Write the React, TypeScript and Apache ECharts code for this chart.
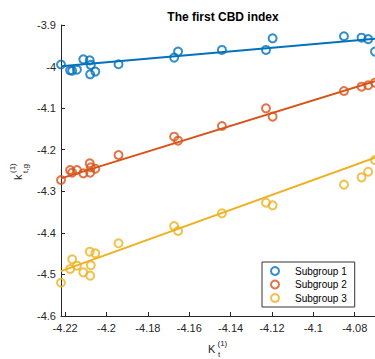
import React, { useEffect, useRef } from "react";
import * as echarts from "echarts";

const kt = [
  -4.222, -4.2176, -4.2166, -4.2143, -4.2112, -4.2081, -4.2079, -4.2076, -4.2054,
  -4.1942, -4.1673, -4.1654, -4.1442, -4.1229, -4.1197, -4.0852, -4.0767, -4.0735, -4.0702,
];
const sub1 = [
  -3.995, -4.009, -4.01, -4.0075, -3.9825, -3.985, -4.0186, -3.996, -4.012,
  -3.9945, -3.9786, -3.964, -3.96, -3.96, -3.932, -3.927, -3.9305, -3.934, -3.964,
];
const sub2 = [
  -4.2729, -4.2488, -4.2553, -4.2488, -4.2568, -4.2327, -4.2553, -4.2423, -4.2457,
  -4.2127, -4.1687, -4.1783, -4.143, -4.1004, -4.1205, -4.0588, -4.0484, -4.045, -4.0388,
];
const sub3 = [
  -4.52, -4.487, -4.4636, -4.479, -4.495, -4.4453, -4.503, -4.478, -4.4492,
  -4.4251, -4.3835, -4.3955, -4.353, -4.3275, -4.3337, -4.2841, -4.2665, -4.2529, -4.2248,
];
const fitX = [-4.222, -4.0702];
const fit1 = [-3.999, -3.933];
const fit2 = [-4.269, -4.035];
const fit3 = [-4.492, -4.219];
const seriesNames = ["Subgroup 1", "Subgroup 2", "Subgroup 3"];
const xTicks = [-4.22, -4.2, -4.18, -4.16, -4.14, -4.12, -4.1, -4.08];

const COLORS = ["#0072BD", "#D95319", "#EDB120"];
const FONT = "'Liberation Sans', Arial, Helvetica, sans-serif";
const AX = "#262626";

export default function App() {
  const ref = useRef<HTMLDivElement>(null);
  useEffect(() => {
    if (!ref.current) return;
    const chart = echarts.init(ref.current, null, { renderer: "svg" });
    const groups = [sub1, sub2, sub3];
    const fits = [fit1, fit2, fit3];
    const scatter = groups.map((g, i) => ({
      type: "scatter",
      name: seriesNames[i],
      data: kt.map((x, j) => [x, g[j]]),
      symbol: "circle",
      symbolSize: 8,
      itemStyle: { color: "transparent", borderColor: COLORS[i], borderWidth: 2 },
      z: 3,
    }));
    const lines = fits.map((f, i) => ({
      type: "line",
      name: "fit" + (i + 1),
      data: fitX.map((x, j) => [x, f[j]]),
      showSymbol: false,
      symbol: "none",
      lineStyle: { color: COLORS[i], width: 2 },
      z: 2,
    }));
    const fmt = (v: number) => String(Math.round(v * 100) / 100);
    chart.setOption({
      animation: false,
      backgroundColor: "#fff",
      textStyle: { fontFamily: FONT },
      title: {
        text: "The first CBD index",
        left: 218,
        top: 6,
        textAlign: "center",
        textStyle: { fontFamily: FONT, fontSize: 12, fontWeight: "bold", color: "#000" },
      },
      grid: { left: 61, right: 0, top: 25, bottom: 43, containLabel: false },
      xAxis: {
        type: "value",
        min: -4.222,
        max: -4.0702,
        axisLine: { show: true, onZero: false, lineStyle: { color: AX, width: 1 } },
        axisTick: { show: true, inside: true, length: 4, customValues: xTicks, lineStyle: { color: AX } },
        axisLabel: { customValues: xTicks, formatter: fmt, color: AX, fontSize: 11, fontFamily: FONT, margin: 6 },
        splitLine: { show: false },
      },
      yAxis: {
        type: "value",
        min: -4.6,
        max: -3.9,
        interval: 0.1,
        axisLine: { show: true, onZero: false, lineStyle: { color: AX, width: 1 } },
        axisTick: { show: true, inside: true, length: 4, lineStyle: { color: AX } },
        axisLabel: { formatter: fmt, color: AX, fontSize: 11, fontFamily: FONT, margin: 5 },
        splitLine: { show: false },
      },
      legend: {
        orient: "vertical",
        left: 262,
        top: 262,
        padding: [3, 8, 3, 8],
        itemWidth: 30,
        itemHeight: 8,
        itemGap: 1.5,
        backgroundColor: "#fff",
        borderColor: "#333",
        borderWidth: 1,
        borderRadius: 0,
        textStyle: { fontFamily: FONT, fontSize: 10, color: "#000", lineHeight: 12 },
        data: seriesNames.map((n, i) => ({
          name: n,
          icon: "circle",
          itemStyle: { color: "transparent", borderColor: COLORS[i], borderWidth: 2 },
        })),
      },
      graphic: [
        {
          type: "group",
          x: 18,
          y: 171,
          rotation: Math.PI / 2,
          children: [
            { type: "text", x: -9, y: 0, style: { text: "k", font: `11px ${FONT}`, fill: AX, align: "left", verticalAlign: "middle" } },
            { type: "text", x: -2, y: -6, style: { text: "(1)", font: `8px ${FONT}`, fill: AX, align: "left", verticalAlign: "middle" } },
            { type: "text", x: -2, y: 7, style: { text: "t,g", font: `8px ${FONT}`, fill: AX, align: "left", verticalAlign: "middle" } },
          ],
        },
        { type: "text", x: 208, y: 349, style: { text: "K", font: `11px ${FONT}`, fill: AX, align: "left", verticalAlign: "middle" } },
        { type: "text", x: 217.5, y: 343.5, style: { text: "(1)", font: `8px ${FONT}`, fill: AX, align: "left", verticalAlign: "middle" } },
        { type: "text", x: 218, y: 354, style: { text: "t", font: `8px ${FONT}`, fill: AX, align: "left", verticalAlign: "middle" } },
      ],
      series: [...lines, ...scatter],
    });
    return () => chart.dispose();
  }, []);
  return <div ref={ref} style={{ width: 375, height: 359, position: "absolute", left: 0, top: 0 }} />;
}
